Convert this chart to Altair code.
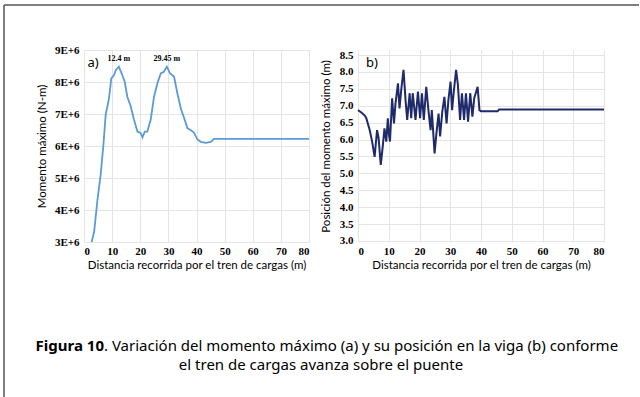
import altair as alt
import pandas as pd

# ---- data ----
dist_a = [2.7, 3.6, 4.7, 5.9, 6.9, 7.7, 8.9, 9.7, 10.7, 11.3, 12.4, 13.6, 14.5, 15.4, 16.6,
          17.8, 19.0, 20.2, 20.8, 21.6, 22.5, 23.7, 24.9, 26.1, 27.3, 28.4, 29.45, 30.6,
          32.0, 33.2, 34.4, 35.6, 36.8, 37.9, 39.1, 40.3, 41.5, 43.3, 45.1, 46.2, 80.0]
mom_a = [3.0e6, 3.31e6, 4.25e6, 5.09e6, 6.03e6, 6.97e6, 7.49e6, 8.11e6, 8.22e6, 8.37e6,
         8.48e6, 8.22e6, 8.0e6, 7.54e6, 7.24e6, 6.81e6, 6.45e6, 6.40e6, 6.27e6, 6.45e6,
         6.45e6, 6.81e6, 7.54e6, 7.96e6, 8.27e6, 8.32e6, 8.48e6, 8.27e6, 8.17e6, 7.65e6,
         7.18e6, 6.87e6, 6.55e6, 6.50e6, 6.42e6, 6.21e6, 6.13e6, 6.10e6, 6.13e6, 6.22e6,
         6.22e6]

dist_b = [0, 1.1, 2.2, 2.7, 3.8, 4.6, 5.4, 6.2, 6.7, 7.4, 8.1, 8.6, 9.2, 9.7, 10.1, 10.4,
          11.1, 11.7, 12.2, 13.0, 13.5, 14.1, 14.8, 15.5, 16.0, 16.8, 17.3, 17.8, 18.7,
          19.5, 20.2, 20.8, 21.4, 22.2, 22.9, 23.6, 24.0, 24.9, 25.5, 26.2, 26.7, 27.4,
          28.1, 28.8, 29.4, 30.1, 30.6, 31.1, 31.9, 32.5, 33.2, 33.8, 34.5, 35.1, 35.8,
          36.5, 37.2, 37.8, 38.9, 39.5, 40.0, 45.4, 45.9, 80.0]
pos_b = [6.87, 6.80, 6.71, 6.63, 6.28, 5.94, 5.49, 6.28, 6.04, 5.25, 5.84, 6.33, 5.94,
         6.63, 6.13, 5.94, 7.22, 6.48, 7.07, 7.66, 6.92, 7.51, 8.06, 7.12, 6.58, 7.37,
         6.63, 7.37, 6.58, 7.42, 6.63, 7.37, 6.58, 7.56, 6.87, 6.28, 6.87, 5.59, 6.18,
         6.77, 6.09, 6.82, 7.26, 6.48, 7.17, 7.71, 6.87, 7.37, 8.06, 7.61, 6.58, 7.37,
         6.58, 7.37, 6.53, 7.37, 6.68, 7.22, 7.56, 6.87, 6.84, 6.84, 6.89, 6.89]

x_ticks = [0, 10, 20, 30, 40, 50, 60, 70, 80]
ya_ticks = [3e6, 4e6, 5e6, 6e6, 7e6, 8e6, 9e6]
yb_ticks = [3.0, 3.5, 4.0, 4.5, 5.0, 5.5, 6.0, 6.5, 7.0, 7.5, 8.0, 8.5]

peak_x = [12.4, 29.45]
peak_y = [8.72e6, 8.72e6]
peak_labels = ["12.4 m", "29.45 m"]

x_title = "Distancia recorrida por el tren de cargas (m)"
ya_title = "Momento máximo (N-m)"
yb_title = "Posición del momento máximo (m)"
caption_bold = "Figura 10"
caption_line1 = ". Variación del momento máximo (a) y su posición en la viga (b) conforme"
caption_line2 = "el tren de cargas avanza sobre el puente"

df_a = pd.DataFrame({"dist": dist_a, "mom": mom_a})
df_b = pd.DataFrame({"dist": dist_b, "pos": pos_b})
df_peak = pd.DataFrame({"dist": peak_x, "mom": peak_y, "t": peak_labels})
one = pd.DataFrame({"k": [0]})

TICK_FONT = "Liberation Serif"
TITLE_FONT = "Liberation Sans Narrow, Lato, sans-serif"
CAP_FONT = "Noto Sans"
CAP_SIZE = 15

x_axis = alt.Axis(values=x_ticks, title=x_title, labelFont=TICK_FONT, labelFontWeight="bold",
                  labelFontSize=11, labelPadding=3, labelOverlap=False, labelBound=False,
                  titleFont=TITLE_FONT, titleFontSize=11.5,
                  titleFontWeight="normal", titlePadding=3)
xa_enc = alt.X("dist:Q", scale=alt.Scale(domain=[0, 80], nice=False), axis=x_axis)
ya_enc = alt.Y("mom:Q", scale=alt.Scale(domain=[3e6, 9e6], nice=False),
               axis=alt.Axis(values=ya_ticks, title=ya_title, labelOverlap=False,
                             labelBound=False,
                             labelExpr="format(datum.value/1e6, 'd') + 'E+6'",
                             labelFont=TICK_FONT, labelFontWeight="bold", labelFontSize=11,
                             labelPadding=5, titleFont=TITLE_FONT, titleFontSize=11.5,
                             titleFontWeight="normal", titlePadding=7))

# ---- left panel ----
line_a = alt.Chart(df_a).mark_line(color="#5B9BD5", strokeWidth=1.8).encode(x=xa_enc, y=ya_enc)
peaks = alt.Chart(df_peak).mark_text(font=TICK_FONT, fontWeight="bold", fontSize=8,
                                     baseline="middle", color="black").encode(
    x=xa_enc, y=ya_enc, text="t:N")
lab_a = alt.Chart(one).mark_text(font=CAP_FONT, fontSize=13, align="center",
                                 baseline="middle", color="black").encode(
    x=alt.value(9), y=alt.value(13), text=alt.value("a)"))

# frame lines (top and left) and caption
frame_left = alt.Chart(one).mark_rule(color="#555555", strokeWidth=1.5).encode(
    x=alt.value(-80), y=alt.value(-45), y2=alt.value(350))
frame_top = alt.Chart(one).mark_rule(color="#555555", strokeWidth=1.5).encode(
    x=alt.value(-80), x2=alt.value(555), y=alt.value(-45))
cap_b = alt.Chart(one).mark_text(font=CAP_FONT, fontSize=CAP_SIZE, fontWeight="bold",
                                 align="right", baseline="middle", color="black").encode(
    x=alt.value(20), y=alt.value(295.5), text=alt.value(caption_bold))
cap_1 = alt.Chart(one).mark_text(font=CAP_FONT, fontSize=CAP_SIZE, align="left",
                                 baseline="middle", color="black").encode(
    x=alt.value(20), y=alt.value(295.5), text=alt.value(caption_line1))
cap_2 = alt.Chart(one).mark_text(font=CAP_FONT, fontSize=CAP_SIZE, align="center",
                                 baseline="middle", color="black").encode(
    x=alt.value(237), y=alt.value(314.5), text=alt.value(caption_line2))

left = alt.layer(line_a, peaks, lab_a, frame_left, frame_top, cap_b, cap_1, cap_2).properties(
    width=225, height=192)

# ---- right panel ----
line_b = alt.Chart(df_b).mark_line(color="#1F2A6B", strokeWidth=2).encode(
    x=alt.X("dist:Q", scale=alt.Scale(domain=[0, 80], nice=False), axis=x_axis),
    y=alt.Y("pos:Q", scale=alt.Scale(domain=[2.97, 8.648], nice=False, zero=False),
            axis=alt.Axis(values=yb_ticks, title=yb_title, format=".1f", labelOverlap=False,
                          labelBound=False,
                          labelFont=TICK_FONT, labelFontWeight="bold", labelFontSize=11,
                          labelPadding=5, titleFont=TITLE_FONT, titleFontSize=11.5,
                          titleFontWeight="normal", titlePadding=8)),
)
lab_b = alt.Chart(one).mark_text(font=CAP_FONT, fontSize=13, align="center",
                                 baseline="middle", color="black").encode(
    x=alt.value(14), y=alt.value(13), text=alt.value("b)"))
right = alt.layer(line_b, lab_b).properties(width=246, height=192)

chart = alt.hconcat(left, right, spacing=49, bounds="flush").properties(
    padding={"left": 3, "top": 4, "right": 0, "bottom": 0},
    background="white",
).configure_view(stroke=None).configure_axis(
    grid=True, gridColor="#e4e4e4", gridWidth=1, domain=False, ticks=False,
    labelColor="black", titleColor="black",
)

chart.save("out.html", embed_options={"renderer": "svg", "actions": False})
